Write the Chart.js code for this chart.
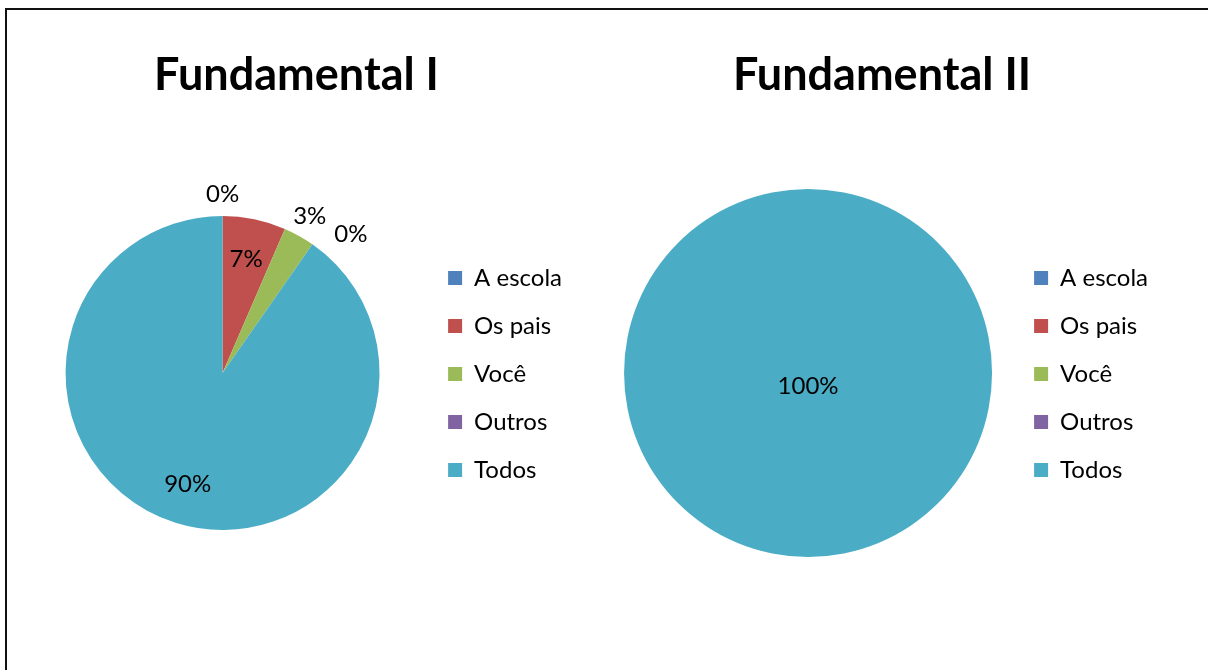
<!DOCTYPE html>
<html>
<head>
<meta charset="utf-8">
<script src="https://cdn.jsdelivr.net/npm/chart.js@4.4.1/dist/chart.umd.min.js"></script>
<style>
html, body { margin: 0; padding: 0; background: #fff; width: 1208px; height: 670px; overflow: hidden; }
.frame { position: absolute; left: 5px; top: 8px; width: 1260px; height: 700px; border-left: 2px solid #111; border-top: 2px solid #111; border-right: 0; border-bottom: 0; box-sizing: border-box; }
canvas { position: absolute; top: 9px; }
#pie-one { left: 6px; }
#pie-two { left: 606px; }
</style>
</head>
<body>
<div class="frame"></div>
<canvas id="pie-one" width="600" height="661"></canvas>
<canvas id="pie-two" width="590" height="661"></canvas>
<script>
const categories = ['A escola', 'Os pais', 'Você', 'Outros', 'Todos'];
const fundIValues = [0, 6.5, 3.2, 0, 90.3];
const fundIIValues = [0, 0, 0, 0, 100];
const sliceColors = ['#4F81BD', '#C0504D', '#9BBB59', '#8064A2', '#4BACC6'];
const chartTitles = ['Fundamental I', 'Fundamental II'];

Chart.defaults.font.family = 'Lato';

// percent labels, roughly like excel "best fit"
const pieLabels = {
    id: 'pieLabels',
    afterDatasetsDraw(chart) {
        const ctx = chart.ctx;
        const meta = chart.getDatasetMeta(0);
        const values = chart.data.datasets[0].data;
        const total = values.reduce((a, b) => a + b, 0);
        const full = values.some(v => v / total > 0.999);
        const placed = [];
        ctx.save();
        ctx.font = '24px Lato';
        ctx.fillStyle = '#000';
        ctx.textAlign = 'center';
        ctx.textBaseline = 'middle';
        meta.data.forEach((arc, i) => {
            const share = values[i] / total;
            if (full && share < 0.999) return;
            const text = Math.round(share * 100) + '%';
            const p = arc.getProps(['x', 'y', 'startAngle', 'endAngle', 'outerRadius'], true);
            const mid = (p.startAngle + p.endAngle) / 2;
            let x, y;
            if (share > 0.999) {
                x = p.x;
                y = p.y + 13;
            } else if (share >= 0.05) {
                x = p.x + Math.cos(mid) * p.outerRadius * 0.74;
                y = p.y + Math.sin(mid) * p.outerRadius * 0.74;
            } else {
                x = p.x + Math.cos(mid) * (p.outerRadius + 22);
                y = p.y + Math.sin(mid) * (p.outerRadius + 22);
                const w = ctx.measureText(text).width;
                placed.forEach(q => {
                    if (Math.abs(q.y - y) < 22 && Math.abs(q.x - x) < (q.w + w) / 2 + 8) {
                        x = q.x + (q.w + w) / 2 + 8;
                        y = q.y + 18;
                    }
                });
                placed.push({ x, y, w });
            }
            ctx.fillText(text, x, y);
        });
        ctx.restore();
    }
};

function makePie(id, title, values, radius, padding) {
    return new Chart(document.getElementById(id), {
        type: 'pie',
        data: {
            labels: categories,
            datasets: [{
                data: values,
                backgroundColor: sliceColors,
                borderWidth: 0,
                hoverOffset: 0,
                radius: radius
            }]
        },
        options: {
            responsive: false,
            animation: false,
            layout: { padding: padding },
            plugins: {
                title: {
                    display: true,
                    text: title,
                    color: '#000',
                    font: { family: 'Lato', size: 45, weight: 'bold' },
                    padding: { top: 39, bottom: 7 }
                },
                legend: {
                    position: 'right',
                    title: { display: true, text: ' ', font: { size: 10 }, padding: 45 },
                    labels: {
                        color: '#000',
                        font: { family: 'Lato', size: 24 },
                        boxWidth: 14,
                        boxHeight: 14,
                        padding: 24
                    }
                },
                tooltip: { enabled: false }
            }
        },
        plugins: [pieLabels]
    });
}

makePie('pie-one', chartTitles[0], fundIValues, 157, { left: 15, right: 34, top: 0, bottom: 33 });
makePie('pie-two', chartTitles[1], fundIIValues, 184, { left: 0, right: 38, top: 0, bottom: 33 });
</script>
</body>
</html>
